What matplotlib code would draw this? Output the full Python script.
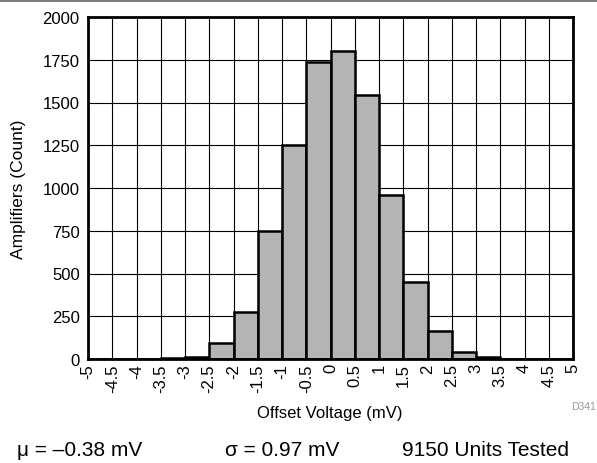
import matplotlib
matplotlib.use("Agg")
import matplotlib.pyplot as plt
import numpy as np
from matplotlib.lines import Line2D

plt.rcParams['font.family'] = ['Liberation Sans', 'DejaVu Sans']

# histogram data (bin edges in mV, counts)
bin_edges = np.arange(-5, 5.01, 0.5)
counts = [0, 0, 1, 4, 12, 94, 273, 750, 1250, 1737,
          1803, 1544, 960, 450, 162, 39, 9, 2, 0, 0]
x_ticks = np.arange(-5, 5.01, 0.5)
x_tick_labels = ["-5", "-4.5", "-4", "-3.5", "-3", "-2.5", "-2", "-1.5", "-1", "-0.5",
                 "0", "0.5", "1", "1.5", "2", "2.5", "3", "3.5", "4", "4.5", "5"]
y_ticks = [0, 250, 500, 750, 1000, 1250, 1500, 1750, 2000]

fig = plt.figure(figsize=(5.97, 4.64), dpi=100)
ax = fig.add_axes([88/597, 1-360/464, (573-88)/597, (360-18)/464])

ax.bar(bin_edges[:-1], counts, width=0.5, align="edge",
       color="#b4b4b4", edgecolor="black", linewidth=1.8, zorder=3)

ax.set_xlim(-5, 5)
ax.set_ylim(0, 2000)
ax.set_xticks(x_ticks)
ax.set_xticklabels(x_tick_labels, rotation=90, fontsize=12)
ax.set_yticks(y_ticks)
ax.set_yticklabels([str(v) for v in y_ticks], fontsize=12)
ax.tick_params(axis="x", length=0, pad=3)
ax.tick_params(axis="y", length=0, pad=6)
ax.grid(True, color="black", linewidth=0.8, zorder=0)
ax.set_axisbelow(True)
for s in ax.spines.values():
    s.set_linewidth(2)
    s.set_zorder(5)

ax.set_xlabel("Offset Voltage (mV)", fontsize=12)
ax.xaxis.set_label_coords(0.499, -0.135)
ax.set_ylabel("Amplifiers (Count)", fontsize=12.5)
ax.yaxis.set_label_coords(-0.128, 0.5)

fig.text(571/597, 1-407/464, "D341", fontsize=7.5, color="#999999", ha="left", va="center")
fig.text(17/597, 1-451/464, "μ = \u20130.38 mV", fontsize=15, ha="left", va="center")
fig.text(225/597, 1-451/464, "σ = 0.97 mV", fontsize=15, ha="left", va="center")
fig.text(402/597, 1-451/464, "9150 Units Tested", fontsize=15, ha="left", va="center")

fig.add_artist(Line2D([0, 1], [1-1.5/464, 1-1.5/464], color="#666666", linewidth=1.2,
                      transform=fig.transFigure))

fig.savefig("out.png", dpi=100)
